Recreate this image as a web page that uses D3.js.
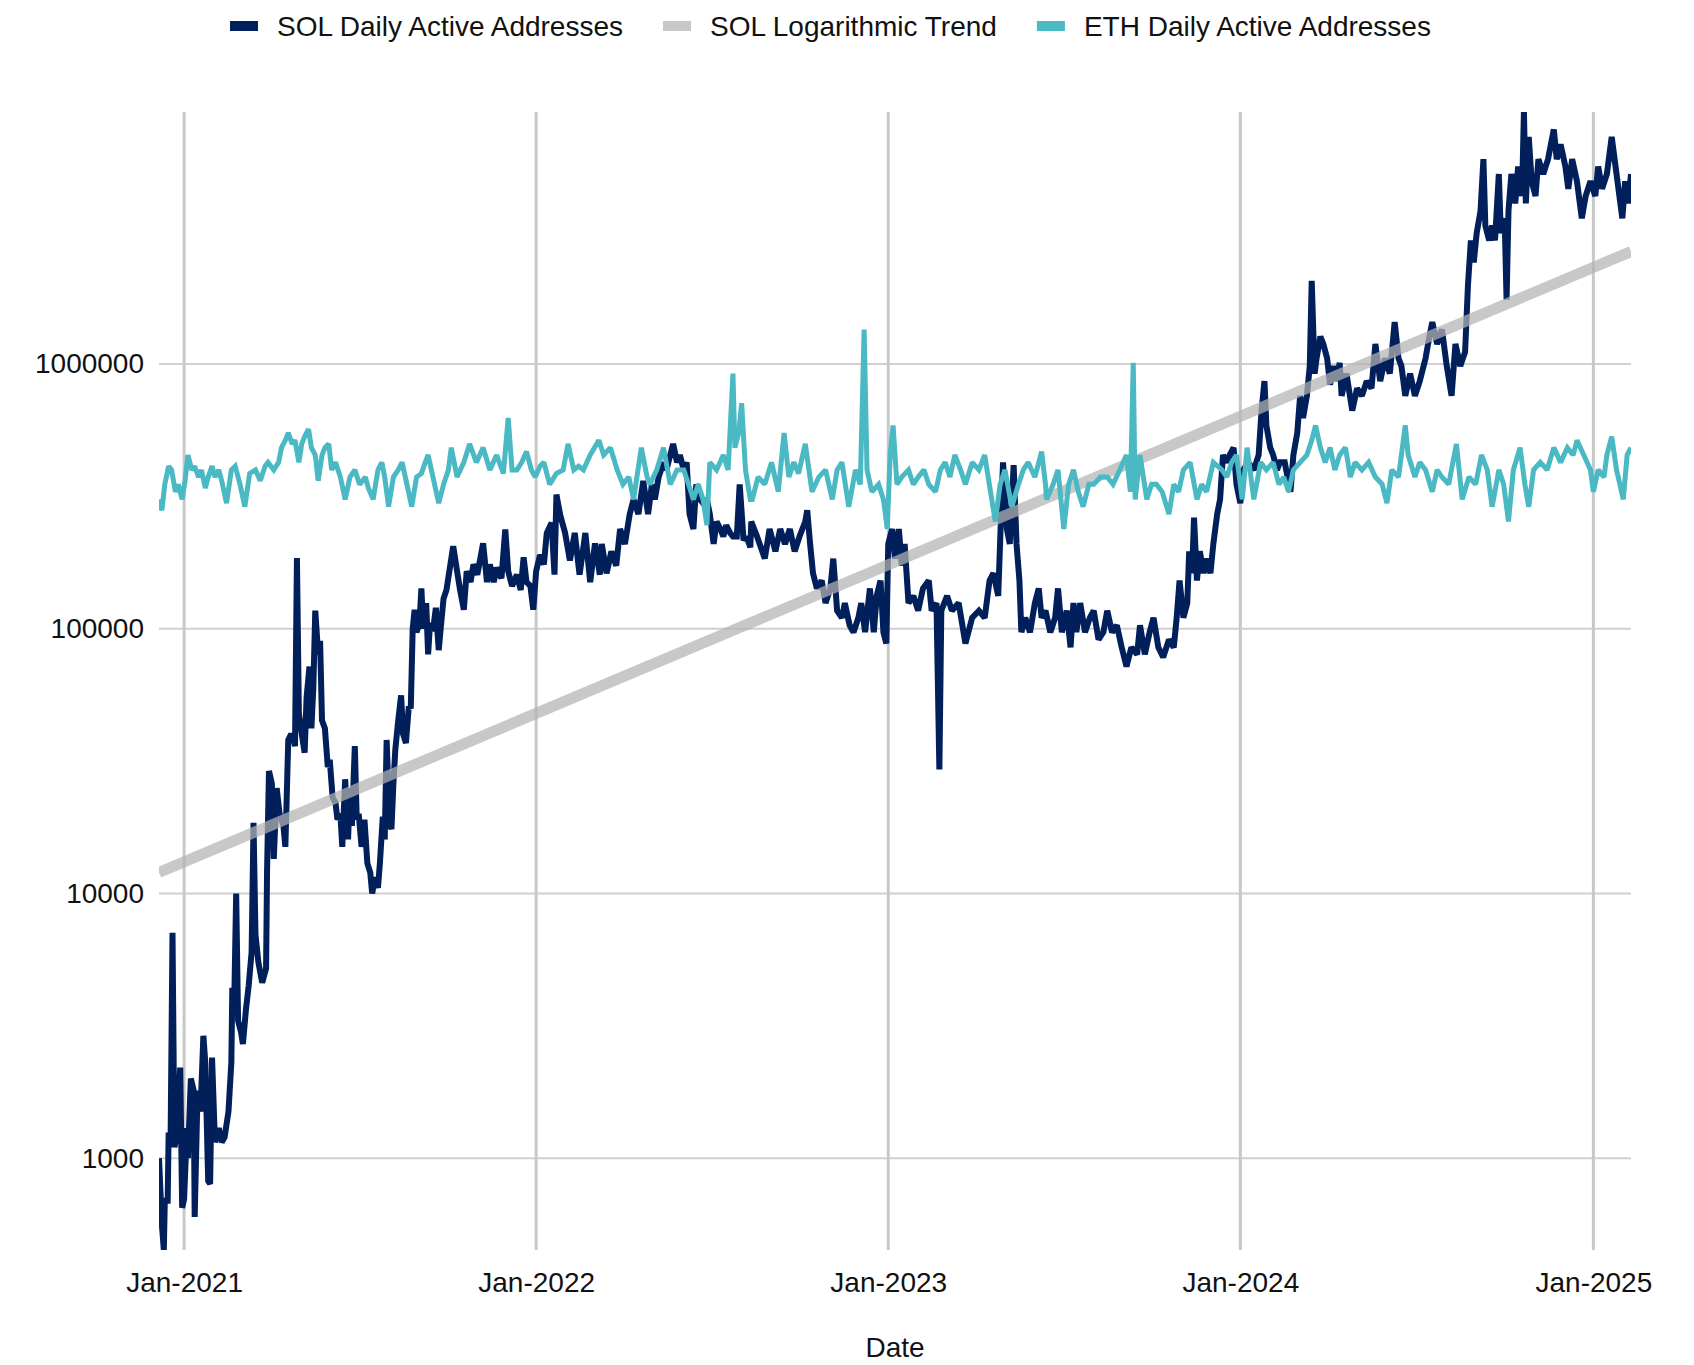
<!DOCTYPE html>
<html><head><meta charset="utf-8">
<script src="https://cdn.jsdelivr.net/npm/d3@7"></script>
<style>
body{margin:0;background:#fff}
svg{display:block}
text{font-family:"Liberation Sans",Arial,Helvetica,sans-serif}
</style>
</head><body>
<svg id="c" width="1694" height="1365"></svg>
<script>
// ---------- DATA ----------
const startDate = new Date(2020, 11, 6);   // day 0
const endDay = 1526;                        // last day shown

const seriesNames = ["SOL Daily Active Addresses", "SOL Logarithmic Trend", "ETH Daily Active Addresses"];
const seriesColors = ["#001f5b", "#c8c8c8", "#4ab9c4"];

const yTicks = [1000, 10000, 100000, 1000000];
const xTickLabels = ["2021-01-01", "2022-01-01", "2023-01-01", "2024-01-01", "2025-01-01"];

const solDay = [0,3,5,6,9,10,12,14,16,18,22,24,26,29,30,33,36,37,40,43,46,48,51,53,55,58,62,65,68,72,75,76,78,80,82,85,87,90,93,96,98,100,103,107,111,112,114,117,119,122,125,129,131,134,137,139,141,143,145,148,151,153,156,158,160,162,165,167,169,172,175,177,180,183,185,188,190,193,196,198,200,203,205,207,210,213,216,219,221,224,227,229,232,234,236,239,241,243,245,248,251,253,256,259,261,263,265,267,270,272,274,277,279,281,284,287,290,292,295,298,
305,309,312,316,319,323,326,330,336,340,343,347,350,355,359,362,366,371,375,378,381,385,388,391,395,399,402,407,410,412,416,421,426,431,436,442,447,452,457,
459,464,469,474,478,483,488,492,497,502,507,511,514,518,523,526,530,533,537,540,544,547,550,554,557,561,564,568,571,575,578,582,585,588,592,595,599,602,606,609,613,
614,620,628,633,639,644,649,654,659,664,670,672,675,678,682,687,691,696,699,703,708,711,716,720,725,728,732,737,741,744,748,751,754,756,760,763,767,770,773,777,782,787,792,798,801,806,809,811,817,822,829,836,843,850,856,861,865,870,873,875,879,882,886,889,892,894,898,903,908,912,915,919,
924,929,932,936,941,945,948,951,955,960,965,969,974,979,983,988,993,998,1003,1008,1014,1017,1022,1027,1031,1036,1041,1047,1052,1055,1058,1062,1066,1068,1071,1073,1076,1079,1083,1086,1090,1093,1097,1100,1103,1107,1110,1114,1117,1121,1124,1129,1135,1140,1143,1146,1148,1152,1155,1159,1162,1167,1173,1176,1180,1183,1186,1190,1193,1195,1198,1200,1204,1207,1211,1214,1218,1221,1224,
1226,1231,1237,1242,1247,1252,1257,1261,1266,1271,1276,1281,1285,1288,1292,1297,1302,1307,1313,1317,1320,1325,1330,1335,1340,1344,1349,1354,1357,1360,1363,1366,1370,1373,1375,1379,1382,1385,1389,1391,1395,1397,1399,1402,1406,1409,1413,1415,1417,1420,1423,1427,1430,1435,1440,1446,1449,1453,1458,1461,1465,1470,1475,1479,1484,1489,1492,1496,1501,1506,1511,1517,1520,1523,1526];

const solVal = [1000,560,450,690,690,1250,1150,7100,1100,1200,2200,650,700,1300,1000,2000,1800,600,1800,1500,2900,2300,820,800,2400,1150,1300,1150,1200,1500,2300,4400,3900,10000,3300,3000,2700,3600,4500,6000,18500,7000,5500,4600,5200,12000,29000,26000,13500,25000,20000,18000,15000,38000,40000,39000,36000,185000,48000,40000,34000,55000,72000,42000,60000,117000,80000,90000,45000,42000,30000,32000,23000,22000,19000,20000,15000,27000,16000,25000,18000,36000,19000,20000,15000,19000,13000,12000,10000,11500,10500,13000,19500,16000,38000,18500,17500,26000,35000,45000,56000,40000,37000,51000,50000,100000,118000,97000,105000,142000,100000,125000,80000,105000,98000,120000,83000,100000,130000,140000,
205000,165000,141000,118000,165000,150000,175000,160000,210000,150000,175000,150000,170000,155000,237000,165000,145000,160000,140000,186000,150000,145000,118000,165000,190000,175000,230000,251000,160000,321000,268000,230000,181000,230000,160000,230000,150000,210000,160000,
209000,162000,196000,173000,238000,209000,271000,308000,271000,362000,271000,351000,308000,374000,425000,398000,453000,499000,425000,453000,398000,425000,271000,238000,351000,308000,298000,308000,271000,209000,254000,238000,223000,246000,230000,223000,223000,351000,216000,223000,203000,
254000,223000,184000,238000,196000,238000,209000,238000,196000,223000,254000,280000,209000,162000,142000,152000,125000,142000,184000,117000,110000,125000,103000,97000,110000,125000,97000,142000,97000,133000,152000,97000,88000,209000,238000,184000,238000,173000,209000,125000,133000,117000,142000,152000,117000,125000,29400,117000,133000,117000,125000,88000,110000,117000,110000,152000,162000,133000,271000,425000,238000,209000,415000,209000,152000,97000,110000,97000,125000,142000,110000,117000,
97000,110000,142000,97000,117000,85000,125000,97000,125000,97000,110000,117000,91000,97000,117000,97000,103000,85000,72000,85000,80000,103000,80000,97000,110000,85000,78000,91000,85000,110000,152000,110000,125000,196000,162000,263000,152000,196000,162000,184000,162000,209000,271000,308000,453000,425000,453000,483000,351000,298000,398000,425000,398000,453000,667000,862000,586000,483000,453000,398000,425000,425000,329000,453000,549000,758000,625000,758000,982000,2060000,920000,1050000,1270000,1190000,1050000,835000,982000,862000,1010000,
758000,920000,667000,809000,758000,862000,809000,1190000,862000,1050000,920000,1440000,1050000,982000,758000,920000,758000,862000,1050000,1270000,1440000,1190000,1350000,982000,758000,1190000,982000,1110000,1990000,2930000,2420000,3120000,3780000,5940000,3330000,2930000,3330000,2930000,5220000,3120000,3550000,1750000,3780000,5220000,4040000,5570000,4310000,8950000,4040000,7210000,4900000,4310000,5940000,5220000,5940000,7690000,5940000,6760000,5570000,4590000,5940000,4900000,3550000,4310000,4900000,4310000,5570000,4590000,5220000,7210000,5220000,3550000,4900000,4040000,5220000];

const ethDay = [0,3,6,10,13,17,20,24,27,30,34,37,41,44,48,51,55,58,62,65,70,75,79,84,89,94,100,105,110,113,119,124,127,131,134,138,141,145,148,151,155,158,162,165,169,172,176,179,183,188,193,198,203,208,214,217,222,227,231,234,238,243,248,252,257,262,267,272,276,279,284,290,295,300,303,
309,316,322,329,336,343,350,357,362,366,371,376,381,386,390,395,399,405,412,419,424,430,435,440,447,456,461,468,475,481,487,492,500,506,509,516,523,530,537,544,549,554,559,564,568,571,578,585,590,595,597,601,604,608,613,
615,621,628,635,642,648,653,658,663,670,677,684,691,698,703,708,715,722,727,731,734,739,746,751,755,758,761,765,770,777,782,787,793,798,805,810,815,820,825,831,836,843,850,856,862,867,872,877,884,891,896,901,908,915,919,
920,927,932,938,943,948,953,958,964,969,976,983,989,996,1003,1007,1010,1012,1017,1024,1029,1034,1040,1047,1052,1057,1062,1069,1076,1081,1086,1093,1102,1107,1112,1117,1123,1128,1135,1142,1148,1155,1161,1166,1171,1176,1183,1190,1195,1199,1204,1209,1214,1219,1224,
1230,1235,1240,1247,1254,1261,1268,1273,1278,1285,1292,1295,1302,1307,1313,1320,1325,1330,1337,1345,1351,1358,1365,1371,1377,1382,1389,1394,1399,1404,1411,1416,1420,1425,1432,1439,1446,1453,1460,1466,1470,1477,1484,1487,1492,1498,1501,1506,1511,1518,1522,1526];

const ethVal = [308000,280000,351000,411000,398000,329000,351000,308000,362000,453000,398000,411000,374000,398000,340000,374000,411000,374000,398000,362000,298000,398000,411000,351000,289000,386000,398000,362000,411000,425000,398000,425000,483000,515000,549000,499000,515000,425000,499000,532000,568000,483000,453000,362000,453000,483000,499000,398000,425000,374000,308000,374000,398000,351000,374000,340000,308000,398000,425000,374000,289000,374000,398000,425000,351000,289000,374000,386000,425000,453000,374000,298000,351000,398000,483000,
374000,425000,499000,425000,483000,398000,453000,386000,625000,398000,398000,425000,467000,398000,374000,411000,425000,351000,386000,398000,499000,398000,411000,398000,453000,515000,453000,483000,398000,351000,374000,308000,483000,374000,351000,398000,483000,351000,398000,398000,351000,308000,351000,308000,246000,425000,398000,453000,398000,920000,483000,549000,711000,398000,308000,
308000,374000,351000,425000,329000,549000,374000,425000,386000,499000,329000,374000,398000,308000,398000,425000,289000,398000,351000,1350000,398000,329000,351000,308000,238000,453000,586000,351000,374000,398000,351000,374000,398000,351000,329000,398000,425000,374000,453000,398000,351000,425000,398000,453000,329000,254000,351000,398000,289000,351000,398000,425000,374000,467000,351000,
308000,351000,398000,238000,351000,398000,329000,289000,351000,351000,374000,374000,351000,398000,453000,329000,1010000,308000,453000,308000,351000,351000,329000,271000,351000,329000,398000,425000,308000,351000,329000,425000,398000,374000,425000,453000,308000,483000,308000,425000,398000,425000,351000,374000,329000,398000,425000,453000,515000,586000,483000,425000,483000,398000,453000,
483000,374000,425000,398000,425000,374000,351000,298000,398000,374000,586000,453000,374000,425000,398000,329000,398000,374000,351000,499000,308000,374000,351000,453000,398000,289000,398000,351000,254000,398000,483000,351000,289000,398000,425000,398000,483000,425000,483000,453000,515000,453000,398000,329000,398000,374000,453000,532000,398000,308000,453000,483000];

const trendDay = [0, 1526];
const trendVal = [12000, 2660000];

// ---------- CHART ----------
(function () {
const svg = d3.select("#c");
const pL = 159, pR = 1631, pT = 112, pB = 1250;
const FS = 28, TXT = "#111";

const toDate = d => d3.timeDay.offset(startDate, d);
const x = d3.scaleTime().domain([startDate, toDate(endDay)]).range([pL, pR]);
const y = d3.scaleLog().domain(d3.extent(solVal)).range([pB, pT]);
const xTickDates = xTickLabels.map(s => d3.timeParse("%Y-%m-%d")(s));

svg.append("rect").attr("width", 1694).attr("height", 1365).attr("fill", "#fff");

svg.append("defs").append("clipPath").attr("id", "plotclip")
  .append("rect").attr("x", pL).attr("y", pT).attr("width", pR - pL).attr("height", pB - pT);

// gridlines
svg.append("g").selectAll("line").data(yTicks).join("line")
  .attr("x1", pL).attr("x2", pR)
  .attr("y1", d => y(d)).attr("y2", d => y(d))
  .attr("stroke", "#d0d0d0").attr("stroke-width", 2);
svg.append("g").selectAll("line").data(xTickDates).join("line")
  .attr("x1", d => x(d)).attr("x2", d => x(d))
  .attr("y1", pT).attr("y2", pB)
  .attr("stroke", "#c8c8c8").attr("stroke-width", 3);

// series
const line = d3.line().x(d => x(toDate(d[0]))).y(d => y(d[1]));
const sol = solDay.map((d, i) => [d, solVal[i]]);
const eth = ethDay.map((d, i) => [d, ethVal[i]]);
const trend = trendDay.map((d, i) => [d, trendVal[i]]);

const plot = svg.append("g").attr("clip-path", "url(#plotclip)");
plot.append("path").datum(sol).attr("d", line)
  .attr("fill", "none").attr("stroke", seriesColors[0]).attr("stroke-width", 6)
  .attr("stroke-linejoin", "miter").attr("stroke-miterlimit", 2);
plot.append("path").datum(trend).attr("d", line)
  .attr("fill", "none").attr("stroke", "#b4b4b4").attr("stroke-opacity", 0.73).attr("stroke-width", 11);
plot.append("path").datum(eth).attr("d", line)
  .attr("fill", "none").attr("stroke", seriesColors[2]).attr("stroke-width", 5)
  .attr("stroke-linejoin", "miter").attr("stroke-miterlimit", 2);

// axes
const yAxis = svg.append("g").attr("transform", `translate(${pL},0)`)
  .call(d3.axisLeft(y).tickValues(yTicks).tickFormat(d3.format("d")).tickSize(0).tickPadding(15));
yAxis.select(".domain").remove();
yAxis.selectAll("text").attr("font-size", FS).attr("fill", TXT)
  .attr("font-family", '"Liberation Sans", Arial, sans-serif');

const xAxis = svg.append("g").attr("transform", `translate(0,${pB})`)
  .call(d3.axisBottom(x).tickValues(xTickDates).tickFormat(d3.timeFormat("%b-%Y")).tickSize(0).tickPadding(22));
xAxis.select(".domain").remove();
xAxis.selectAll("text").attr("font-size", FS).attr("fill", TXT)
  .attr("font-family", '"Liberation Sans", Arial, sans-serif');

svg.append("text").attr("x", (pL + pR) / 2).attr("y", 1357)
  .attr("text-anchor", "middle").attr("font-size", FS).attr("fill", TXT).text("Date");

// legend
const leg = svg.append("g");
let lx = 230;
seriesNames.forEach((name, i) => {
  leg.append("rect").attr("x", lx).attr("y", 21).attr("width", 28).attr("height", 10).attr("fill", seriesColors[i]);
  const t = leg.append("text").attr("x", lx + 47).attr("y", 36).attr("font-size", FS).attr("fill", TXT).text(name);
  lx = lx + 47 + t.node().getComputedTextLength() + 40;
});
})();
</script>
</body></html>
